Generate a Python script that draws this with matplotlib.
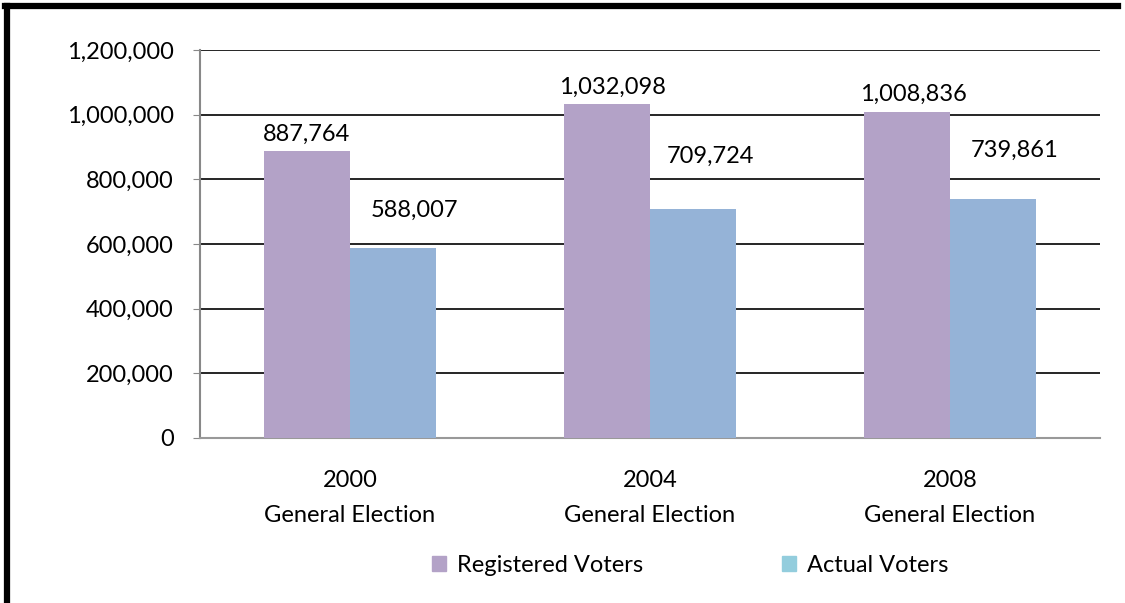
import matplotlib.pyplot as plt
import numpy as np
from matplotlib.patches import Patch
from matplotlib.lines import Line2D
from matplotlib.ticker import FuncFormatter

categories = ["2000\nGeneral Election", "2004\nGeneral Election", "2008\nGeneral Election"]
registered = [887764, 1032098, 1008836]
actual = [588007, 709724, 739861]
series_names = ["Registered Voters", "Actual Voters"]

plt.rcParams['font.family'] = ['Lato', 'DejaVu Sans']
FS = 17

fig = plt.figure(figsize=(11.25, 6.03), dpi=100)
ax = fig.add_axes([200 / 1125, 1 - 438 / 603, 900 / 1125, 388 / 603])

x = np.arange(len(categories))
w = 0.287
reg_color = "#b3a2c7"
act_color = "#95b3d7"
ax.bar(x - w / 2, registered, w, color=reg_color, zorder=3)
ax.bar(x + w / 2, actual, w, color=act_color, zorder=3)

# value labels, offsets in pixels (Excel put them at uneven spots)
reg_dy = [17, 17, 17]
reg_dx = [0, 6, 7]
act_dy = [38, 52, 48]
act_dx = [21, 17, 22]
px = 72 / 100
for i in range(len(categories)):
    ax.annotate(f"{registered[i]:,}", (x[i] - w / 2, registered[i]),
                xytext=(reg_dx[i] * px, reg_dy[i] * px), textcoords="offset points",
                ha="center", va="center", fontsize=FS, zorder=4)
    ax.annotate(f"{actual[i]:,}", (x[i] + w / 2, actual[i]),
                xytext=(act_dx[i] * px, act_dy[i] * px), textcoords="offset points",
                ha="center", va="center", fontsize=FS, zorder=4)

ax.set_xlim(-0.5, 2.5)
ax.set_ylim(0, 1200000)
ax.set_yticks(np.arange(0, 1200001, 200000))
ax.yaxis.set_major_formatter(FuncFormatter(lambda v, p: f"{int(v):,}"))
ax.grid(axis="y", color="black", linewidth=1.2, zorder=0)
ax.set_xticks(x)
ax.set_xticklabels(categories, fontsize=FS, linespacing=1.8)
ax.tick_params(axis="x", length=0, pad=23)
ax.tick_params(axis="y", length=5, color="#888888", labelsize=FS, pad=14)
for s in ["top", "right"]:
    ax.spines[s].set_visible(False)
ax.spines["left"].set_color("#888888")
ax.spines["bottom"].set_color("#999999")
ax.spines["left"].set_linewidth(1.5)
ax.spines["bottom"].set_linewidth(1.5)

handles = [Patch(color=reg_color), Patch(color="#93cddd")]
fig.legend(handles, series_names, loc="center", bbox_to_anchor=(690 / 1125, 1 - 565 / 603),
           ncol=2, frameon=False, fontsize=FS, handlelength=0.6, handleheight=0.6,
           handletextpad=0.45, columnspacing=5.9)

# outer chart border (left and top visible)
fig.add_artist(Line2D([7 / 1125, 7 / 1125], [0, 1 - 6 / 603], color="black",
                      linewidth=4.5, transform=fig.transFigure))
fig.add_artist(Line2D([5 / 1125, 1118 / 1125], [1 - 6 / 603, 1 - 6 / 603], color="black",
                      linewidth=4.5, transform=fig.transFigure))

fig.savefig("out.png", dpi=100)
